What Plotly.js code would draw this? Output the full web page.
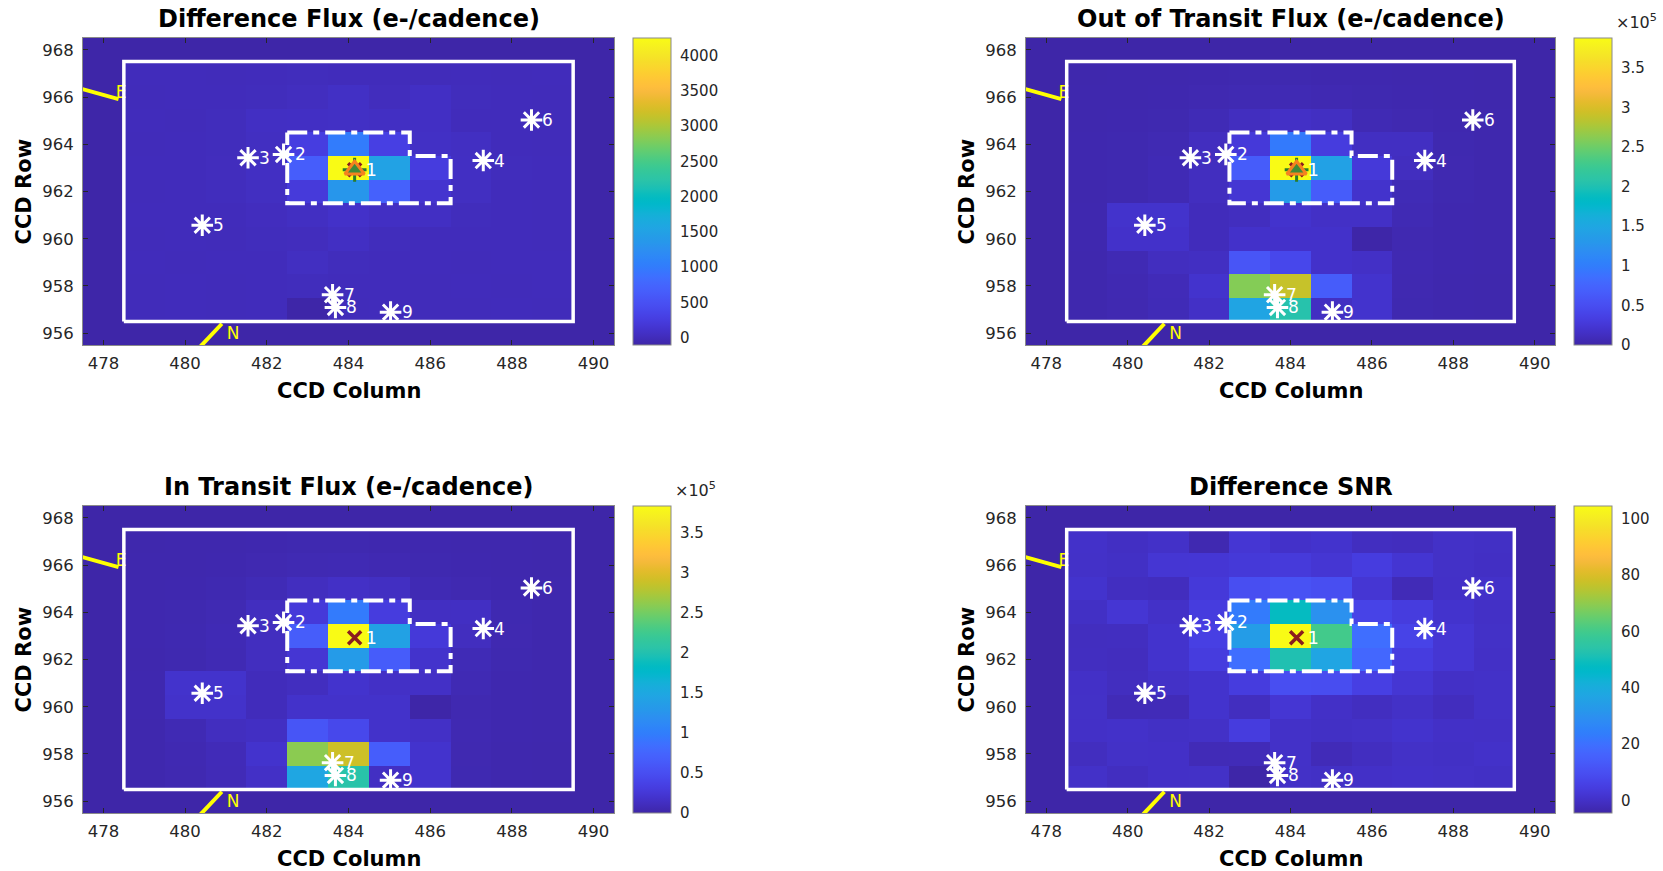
<!DOCTYPE html>
<html>
<head>
<meta charset="utf-8">
<script src="https://cdn.plot.ly/plotly-3.0.1.min.js"></script>
<style>
html,body{margin:0;padding:0;background:#fff;}
#chart{width:1663px;height:871px;}
</style>
</head>
<body>
<div id="chart"></div>
<script>
// ---------------- data ----------------
const columns = [478, 479, 480, 481, 482, 483, 484, 485, 486, 487, 488, 489, 490];
const rows = [968, 967, 966, 965, 964, 963, 962, 961, 960, 959, 958, 957, 956]; // top to bottom
const xTickVals = [478, 480, 482, 484, 486, 488, 490];
const yTickVals = [956, 958, 960, 962, 964, 966, 968];

const N13 = [null, null, null, null, null, null, null, null, null, null, null, null, null];

const diffFlux = [
  N13,
  [null, 5, 8, 3, 10, 12, 6, 9, 4, 7, 2, 5, null],
  [null, 4, 6, 10, 15, 30, 70, 20, 60, 12, 5, 3, null],
  [null, 7, 3, 12, 55, 60, 65, 55, 60, 10, 6, 4, null],
  [null, 2, 9, 15, 45, 260, 1000, 290, 70, 50, 8, 3, null],
  [null, 5, 10, 20, 55, 650, 4246, 1510, 240, 55, 12, 6, null],
  [null, 3, 8, 18, 45, 210, 1340, 700, 130, 45, 9, 4, null],
  [null, 6, 5, 10, 25, 50, 95, 55, 55, 15, 7, 2, null],
  [null, 4, 7, 3, 12, 20, 55, 15, 10, 5, 8, 3, null],
  [null, 5, 2, 8, 10, 45, 15, 6, 9, 4, 6, 5, null],
  [null, 3, 6, 4, 7, 12, 8, 5, 3, 7, 4, 6, null],
  [null, 4, 5, 2, 8, -102, 3, 6, 4, 2, 5, 3, null],
  N13
];

const outOfTransitFlux = [
  N13,
  [null, 2500, 3000, 2800, 3500, 4000, 3800, 3600, 3200, 3000, 2700, 2500, null],
  [null, 2800, 3100, 3500, 4500, 5500, 6000, 5000, 4200, 3500, 3000, 2600, null],
  [null, 3000, 3400, 4200, 7000, 11500, 15500, 13500, 6000, 4500, 3300, 2900, null],
  [null, 3200, 3800, 5500, 11500, 27000, 97000, 31000, 13500, 13500, 4200, 3000, null],
  [null, 3300, 4200, 6500, 11500, 66000, 387800, 143000, 27000, 11500, 4500, 3100, null],
  [null, 3100, 4000, 6000, 11500, 23000, 135000, 66000, 19000, 7000, 4000, 3000, null],
  [null, 3500, 19000, 19000, 9500, 11500, 19400, 15500, 15500, 6000, 3600, 2900, null],
  [null, 3300, 17500, 17500, 9500, 17500, 17500, 17500, -150, 4500, 3300, 2800, null],
  [null, 3000, 6000, 11500, 13500, 58000, 43000, 17500, 15500, 5000, 3200, 2700, null],
  [null, 2800, 5000, 8000, 19400, 260000, 290000, 66000, 19400, 4500, 3000, 2600, null],
  [null, 2700, 4500, 7500, 15500, 147000, 205000, 13500, 19400, 4200, 2900, 2500, null],
  N13
];

const inTransitFlux = [
  N13,
  [null, 2500, 3000, 2800, 3500, 4000, 3800, 3600, 3200, 3000, 2700, 2500, null],
  [null, 2800, 3100, 3500, 4500, 5500, 5900, 5000, 4100, 3500, 3000, 2600, null],
  [null, 3000, 3400, 4200, 6900, 11400, 15400, 13400, 5900, 4500, 3300, 2900, null],
  [null, 3200, 3800, 5500, 11500, 26700, 96000, 30700, 13400, 13500, 4200, 3000, null],
  [null, 3300, 4200, 6500, 11400, 65400, 383550, 141500, 26800, 11400, 4500, 3100, null],
  [null, 3100, 4000, 6000, 11500, 22800, 133700, 65300, 18900, 7000, 4000, 3000, null],
  [null, 3500, 19000, 19000, 9500, 11400, 19300, 15400, 15400, 6000, 3600, 2900, null],
  [null, 3300, 17500, 17500, 9500, 17500, 17400, 17500, -160, 4500, 3300, 2800, null],
  [null, 3000, 6000, 11500, 13500, 57950, 43000, 17500, 15500, 5000, 3200, 2700, null],
  [null, 2800, 5000, 8000, 19400, 259990, 289990, 66000, 19400, 4500, 3000, 2600, null],
  [null, 2700, 4500, 7500, 15500, 147100, 205000, 13500, 19400, 4200, 2900, 2500, null],
  N13
];

const diffSnr = [
  N13,
  [null, 0.3, -0.5, 0.2, -3.2, 2.1, 0.4, 1.1, -1.0, -1.3, 0.1, -0.2, null],
  [null, 0.2, -0.3, 2.0, 2.2, 3.0, 3.3, 2.1, 4.3, 1.9, 0.1, -0.4, null],
  [null, 1.0, -1.1, -1.4, 3.1, 9.8, 10.9, 9.6, 2.0, -2.3, 0.0, 0.3, null],
  [null, -0.2, 2.0, 0.2, 4.2, 23.0, 48.0, 30.0, 6.4, 4.2, 1.0, -0.1, null],
  [null, -1.2, -1.0, 1.0, 5.3, 34.0, 104.5, 60.0, 19.5, 6.4, 2.0, 0.1, null],
  [null, -1.1, -1.3, 1.1, 4.2, 19.5, 52.0, 37.0, 17.3, 4.3, 2.1, -0.1, null],
  [null, 0.0, -1.2, 0.1, 1.0, 4.2, 9.7, 9.5, 5.3, 2.0, -0.1, 0.2, null],
  [null, 0.1, -2.3, -2.2, 1.0, -1.2, 2.0, 0.0, -1.1, 0.1, -1.3, 0.2, null],
  [null, 0.0, 0.3, -0.2, 0.1, 4.2, 0.2, -0.3, 0.1, 1.0, 0.0, -0.1, null],
  [null, -1.2, 0.1, 0.0, -2.3, -2.2, 0.2, -2.2, -1.1, 0.1, -0.2, 0.3, null],
  [null, 0.2, -1.1, 0.0, 0.1, -4.5, 0.1, -0.2, 0.0, 0.3, 0.1, -0.3, null],
  N13
];

const panelTitles = ['Difference Flux (e-/cadence)', 'Out of Transit Flux (e-/cadence)',
                     'In Transit Flux (e-/cadence)', 'Difference SNR'];

const diffTickVals = [0, 500, 1000, 1500, 2000, 2500, 3000, 3500, 4000];
const diffTickText = ['0', '500', '1000', '1500', '2000', '2500', '3000', '3500', '4000'];
const fluxTickVals = [0, 50000, 100000, 150000, 200000, 250000, 300000, 350000];
const fluxTickText = ['0', '0.5', '1', '1.5', '2', '2.5', '3', '3.5'];
const snrTickVals = [0, 20, 40, 60, 80, 100];
const snrTickText = ['0', '20', '40', '60', '80', '100'];

// nearby stars (KIC positions)
const starNames = ['2', '3', '4', '5', '6', '7', '8', '9'];
const starCol = [482.41, 481.54, 487.30, 480.42, 488.48, 483.61, 483.68, 485.03];
const starRow = [963.57, 963.43, 963.31, 960.57, 965.03, 957.63, 957.09, 956.89];
const targetName = ['1'];
const targetCol = [484.15];
const targetRow = [962.92];

// apertures
const maskCol = [478.5, 489.5, 489.5, 478.5, 478.5];
const maskRow = [956.5, 956.5, 967.5, 967.5, 956.5];
const optimalCol = [482.5, 485.5, 485.5, 486.5, 486.5, 482.5, 482.5];
const optimalRow = [964.5, 964.5, 963.5, 963.5, 961.5, 961.5, 964.5];

// compass
const eastCol = [477.0, 478.37];
const eastRow = [966.57, 965.91];
const northCol = [480.30, 480.90];
const northRow = [955.30, 956.40];
const compassLabels = ['E', 'N'];
const compassLabelCol = [478.30, 481.02];
const compassLabelRow = [966.13, 955.93];

// ---------------- style ----------------
const parula64 = [
[0.2422,0.1504,0.6603],[0.2504,0.1650,0.7076],[0.2578,0.1818,0.7511],[0.2647,0.1978,0.7952],
[0.2706,0.2147,0.8364],[0.2751,0.2342,0.8710],[0.2783,0.2559,0.8991],[0.2803,0.2782,0.9221],
[0.2813,0.3006,0.9414],[0.2810,0.3228,0.9579],[0.2795,0.3447,0.9717],[0.2760,0.3667,0.9829],
[0.2699,0.3892,0.9906],[0.2602,0.4123,0.9952],[0.2440,0.4358,0.9988],[0.2206,0.4603,0.9973],
[0.1963,0.4847,0.9892],[0.1834,0.5074,0.9798],[0.1786,0.5289,0.9682],[0.1764,0.5499,0.9520],
[0.1687,0.5703,0.9359],[0.1540,0.5902,0.9218],[0.1460,0.6091,0.9079],[0.1380,0.6276,0.8973],
[0.1248,0.6459,0.8883],[0.1113,0.6635,0.8763],[0.0952,0.6798,0.8598],[0.0689,0.6948,0.8394],
[0.0297,0.7082,0.8163],[0.0036,0.7203,0.7917],[0.0067,0.7312,0.7660],[0.0433,0.7411,0.7394],
[0.0964,0.7500,0.7120],[0.1408,0.7584,0.6842],[0.1717,0.7670,0.6554],[0.1938,0.7758,0.6251],
[0.2161,0.7843,0.5923],[0.2470,0.7918,0.5567],[0.2906,0.7973,0.5188],[0.3406,0.8008,0.4789],
[0.3909,0.8029,0.4354],[0.4456,0.8024,0.3909],[0.5044,0.7993,0.3480],[0.5616,0.7942,0.3045],
[0.6174,0.7876,0.2612],[0.6720,0.7793,0.2227],[0.7242,0.7698,0.1910],[0.7738,0.7598,0.1646],
[0.8203,0.7498,0.1535],[0.8634,0.7406,0.1596],[0.9035,0.7330,0.1774],[0.9393,0.7288,0.2100],
[0.9728,0.7298,0.2394],[0.9956,0.7434,0.2371],[0.9970,0.7659,0.2199],[0.9952,0.7893,0.2028],
[0.9892,0.8136,0.1885],[0.9786,0.8386,0.1766],[0.9676,0.8639,0.1643],[0.9610,0.8890,0.1537],
[0.9597,0.9135,0.1423],[0.9628,0.9373,0.1265],[0.9691,0.9606,0.1064],[0.9769,0.9839,0.0805]];
const rgb = c => 'rgb(' + c.map(v => Math.round(v * 255)).join(',') + ')';
const parula = parula64.map((c, i) => [i / 63, rgb(c)]);

const FONT = 'DejaVu Sans, sans-serif';
const W = 1663, H = 871;
const plotLeft = [83, 1026], plotRight = [614, 1555];
const plotTop = [38, 506], plotBottom = [345, 813];
const cbLeft = [633, 1574];
const TXT = '#262626';

const panelData = [diffFlux, outOfTransitFlux, inTransitFlux, diffSnr];
const panelTicks = [[diffTickVals, diffTickText], [fluxTickVals, fluxTickText],
                    [fluxTickVals, fluxTickText], [snrTickVals, snrTickText]];
const panelExp = [false, true, true, false];
const panelTriangle = [true, true, false, false];

const traces = [];
const annotations = [];
const layout = {
  width: W, height: H,
  margin: {l: 0, r: 0, t: 0, b: 0},
  paper_bgcolor: '#ffffff',
  plot_bgcolor: rgb(parula64[0]),
  showlegend: false,
  font: {family: FONT, color: TXT},
  annotations: annotations
};

const px = v => v / W;
const py = v => 1 - v / H;

for (let i = 0; i < 4; i++) {
  const c = i % 2, r = Math.floor(i / 2);
  const s = i === 0 ? '' : String(i + 1);
  const xa = 'x' + s, ya = 'y' + s;
  const z = panelData[i];
  const flat = z.flat().filter(v => v !== null);
  const zmin = Math.min(...flat), zmax = Math.max(...flat);

  layout['xaxis' + s] = {
    domain: [px(plotLeft[c]), px(plotRight[c])], anchor: ya,
    range: [477.5, 490.5], tickvals: xTickVals, ticktext: xTickVals.map(String),
    ticks: 'inside', ticklen: 5, tickwidth: 1, tickcolor: TXT,
    showline: true, linecolor: '#8a8a8a', linewidth: 1, mirror: 'ticks',
    showgrid: false, zeroline: false, ticklabelstandoff: 3,
    tickfont: {family: FONT, size: 16.5, color: TXT}, fixedrange: true
  };
  layout['yaxis' + s] = {
    domain: [py(plotBottom[r]), py(plotTop[r])], anchor: xa,
    range: [955.5, 968.5], tickvals: yTickVals, ticktext: yTickVals.map(String),
    ticks: 'inside', ticklen: 5, tickwidth: 1, tickcolor: TXT,
    showline: true, linecolor: '#8a8a8a', linewidth: 1, mirror: 'ticks',
    showgrid: false, zeroline: false, ticklabelstandoff: 5,
    tickfont: {family: FONT, size: 16.5, color: TXT}, fixedrange: true
  };

  traces.push({
    type: 'heatmap', xaxis: xa, yaxis: ya,
    x: columns, y: rows.slice().reverse(), z: z.slice().reverse(),
    zmin: zmin, zmax: zmax, colorscale: parula, hoverinfo: 'skip',
    colorbar: {
      x: px(cbLeft[c]), xanchor: 'left', xpad: 0, ypad: 0,
      y: py((plotTop[r] + plotBottom[r]) / 2), yanchor: 'middle',
      len: (plotBottom[r] - plotTop[r]) / H, lenmode: 'fraction',
      thickness: 38, thicknessmode: 'pixels',
      outlinewidth: 1, outlinecolor: '#8a8a8a',
      ticks: 'outside', ticklen: 6, tickwidth: 1, tickcolor: 'rgba(0,0,0,0)',
      tickvals: panelTicks[i][0], ticktext: panelTicks[i][1],
      tickfont: {family: FONT, size: 15, color: TXT}
    }
  });

  // compass
  traces.push({type: 'scatter', mode: 'lines', xaxis: xa, yaxis: ya, x: eastCol, y: eastRow,
    line: {color: '#ffff00', width: 4}, hoverinfo: 'skip'});
  traces.push({type: 'scatter', mode: 'lines', xaxis: xa, yaxis: ya, x: northCol, y: northRow,
    line: {color: '#ffff00', width: 4}, hoverinfo: 'skip'});
  traces.push({type: 'scatter', mode: 'text', xaxis: xa, yaxis: ya,
    x: compassLabelCol, y: compassLabelRow, text: compassLabels, textposition: 'middle right',
    textfont: {family: FONT, size: 17, color: '#ffff00'}, hoverinfo: 'skip', cliponaxis: true});

  // apertures
  traces.push({type: 'scatter', mode: 'lines', xaxis: xa, yaxis: ya, x: maskCol, y: maskRow,
    line: {color: '#ffffff', width: 3.5}, hoverinfo: 'skip'});
  traces.push({type: 'scatter', mode: 'lines', xaxis: xa, yaxis: ya, x: optimalCol, y: optimalRow,
    line: {color: '#ffffff', width: 4, dash: '20px,6px,6px,6px'}, hoverinfo: 'skip'});

  // stars
  traces.push({type: 'scatter', mode: 'markers', xaxis: xa, yaxis: ya, x: starCol, y: starRow,
    marker: {symbol: 'asterisk-open', size: 18, color: '#ffffff', line: {color: '#ffffff', width: 3}},
    hoverinfo: 'skip'});

  // target markers
  traces.push({type: 'scatter', mode: 'markers', xaxis: xa, yaxis: ya, x: targetCol, y: targetRow,
    marker: {symbol: 'x-thin-open', size: 13, color: '#8b1e1e', line: {color: '#8b1e1e', width: 3.5}},
    hoverinfo: 'skip'});
  if (panelTriangle[i]) {
    traces.push({type: 'scatter', mode: 'markers', xaxis: xa, yaxis: ya, x: targetCol, y: targetRow,
      marker: {symbol: 'cross-thin-open', size: 17, color: '#2a7d2a', line: {color: '#2a7d2a', width: 3}},
      hoverinfo: 'skip'});
    traces.push({type: 'scatter', mode: 'markers', xaxis: xa, yaxis: ya, x: targetCol, y: targetRow,
      marker: {symbol: 'triangle-up', size: 17, color: '#3f8a3a', line: {color: '#f5821f', width: 3}},
      hoverinfo: 'skip'});
  }

  // star labels
  const allNames = targetName.concat(starNames);
  const allCol = targetCol.concat(starCol);
  const allRow = targetRow.concat(starRow);
  for (let k = 0; k < allNames.length; k++) {
    annotations.push({xref: xa, yref: ya, x: allCol[k], y: allRow[k], text: allNames[k],
      showarrow: false, xanchor: 'left', yanchor: 'middle', xshift: 9,
      font: {family: FONT, size: 17, color: '#ffffff'}});
  }

  // panel title
  annotations.push({xref: 'paper', yref: 'paper',
    x: px((plotLeft[c] + plotRight[c]) / 2), y: py(plotTop[r] - 19),
    text: panelTitles[i], showarrow: false, xanchor: 'center', yanchor: 'middle',
    font: {family: FONT, size: 24, color: '#000000', weight: 700}});
  // axis titles
  annotations.push({xref: 'paper', yref: 'paper',
    x: px((plotLeft[c] + plotRight[c]) / 2), y: py(plotBottom[r] + 46),
    text: 'CCD Column', showarrow: false, xanchor: 'center', yanchor: 'middle',
    font: {family: FONT, size: 21, color: '#000000', weight: 700}});
  annotations.push({xref: 'paper', yref: 'paper',
    x: px(plotLeft[c] - 60), y: py((plotTop[r] + plotBottom[r]) / 2),
    text: 'CCD Row', showarrow: false, textangle: -90, xanchor: 'center', yanchor: 'middle',
    font: {family: FONT, size: 21, color: '#000000', weight: 700}});
  // exponent label
  if (panelExp[i]) {
    annotations.push({xref: 'paper', yref: 'paper',
      x: px(cbLeft[c] + 40), y: py(plotTop[r] - 16),
      text: '\u00d710<sup>5</sup>', showarrow: false, xanchor: 'left', yanchor: 'middle',
      font: {family: FONT, size: 16, color: TXT}});
  }
}

Plotly.newPlot('chart', traces, layout, {staticPlot: true, displayModeBar: false});
</script>
</body>
</html>
